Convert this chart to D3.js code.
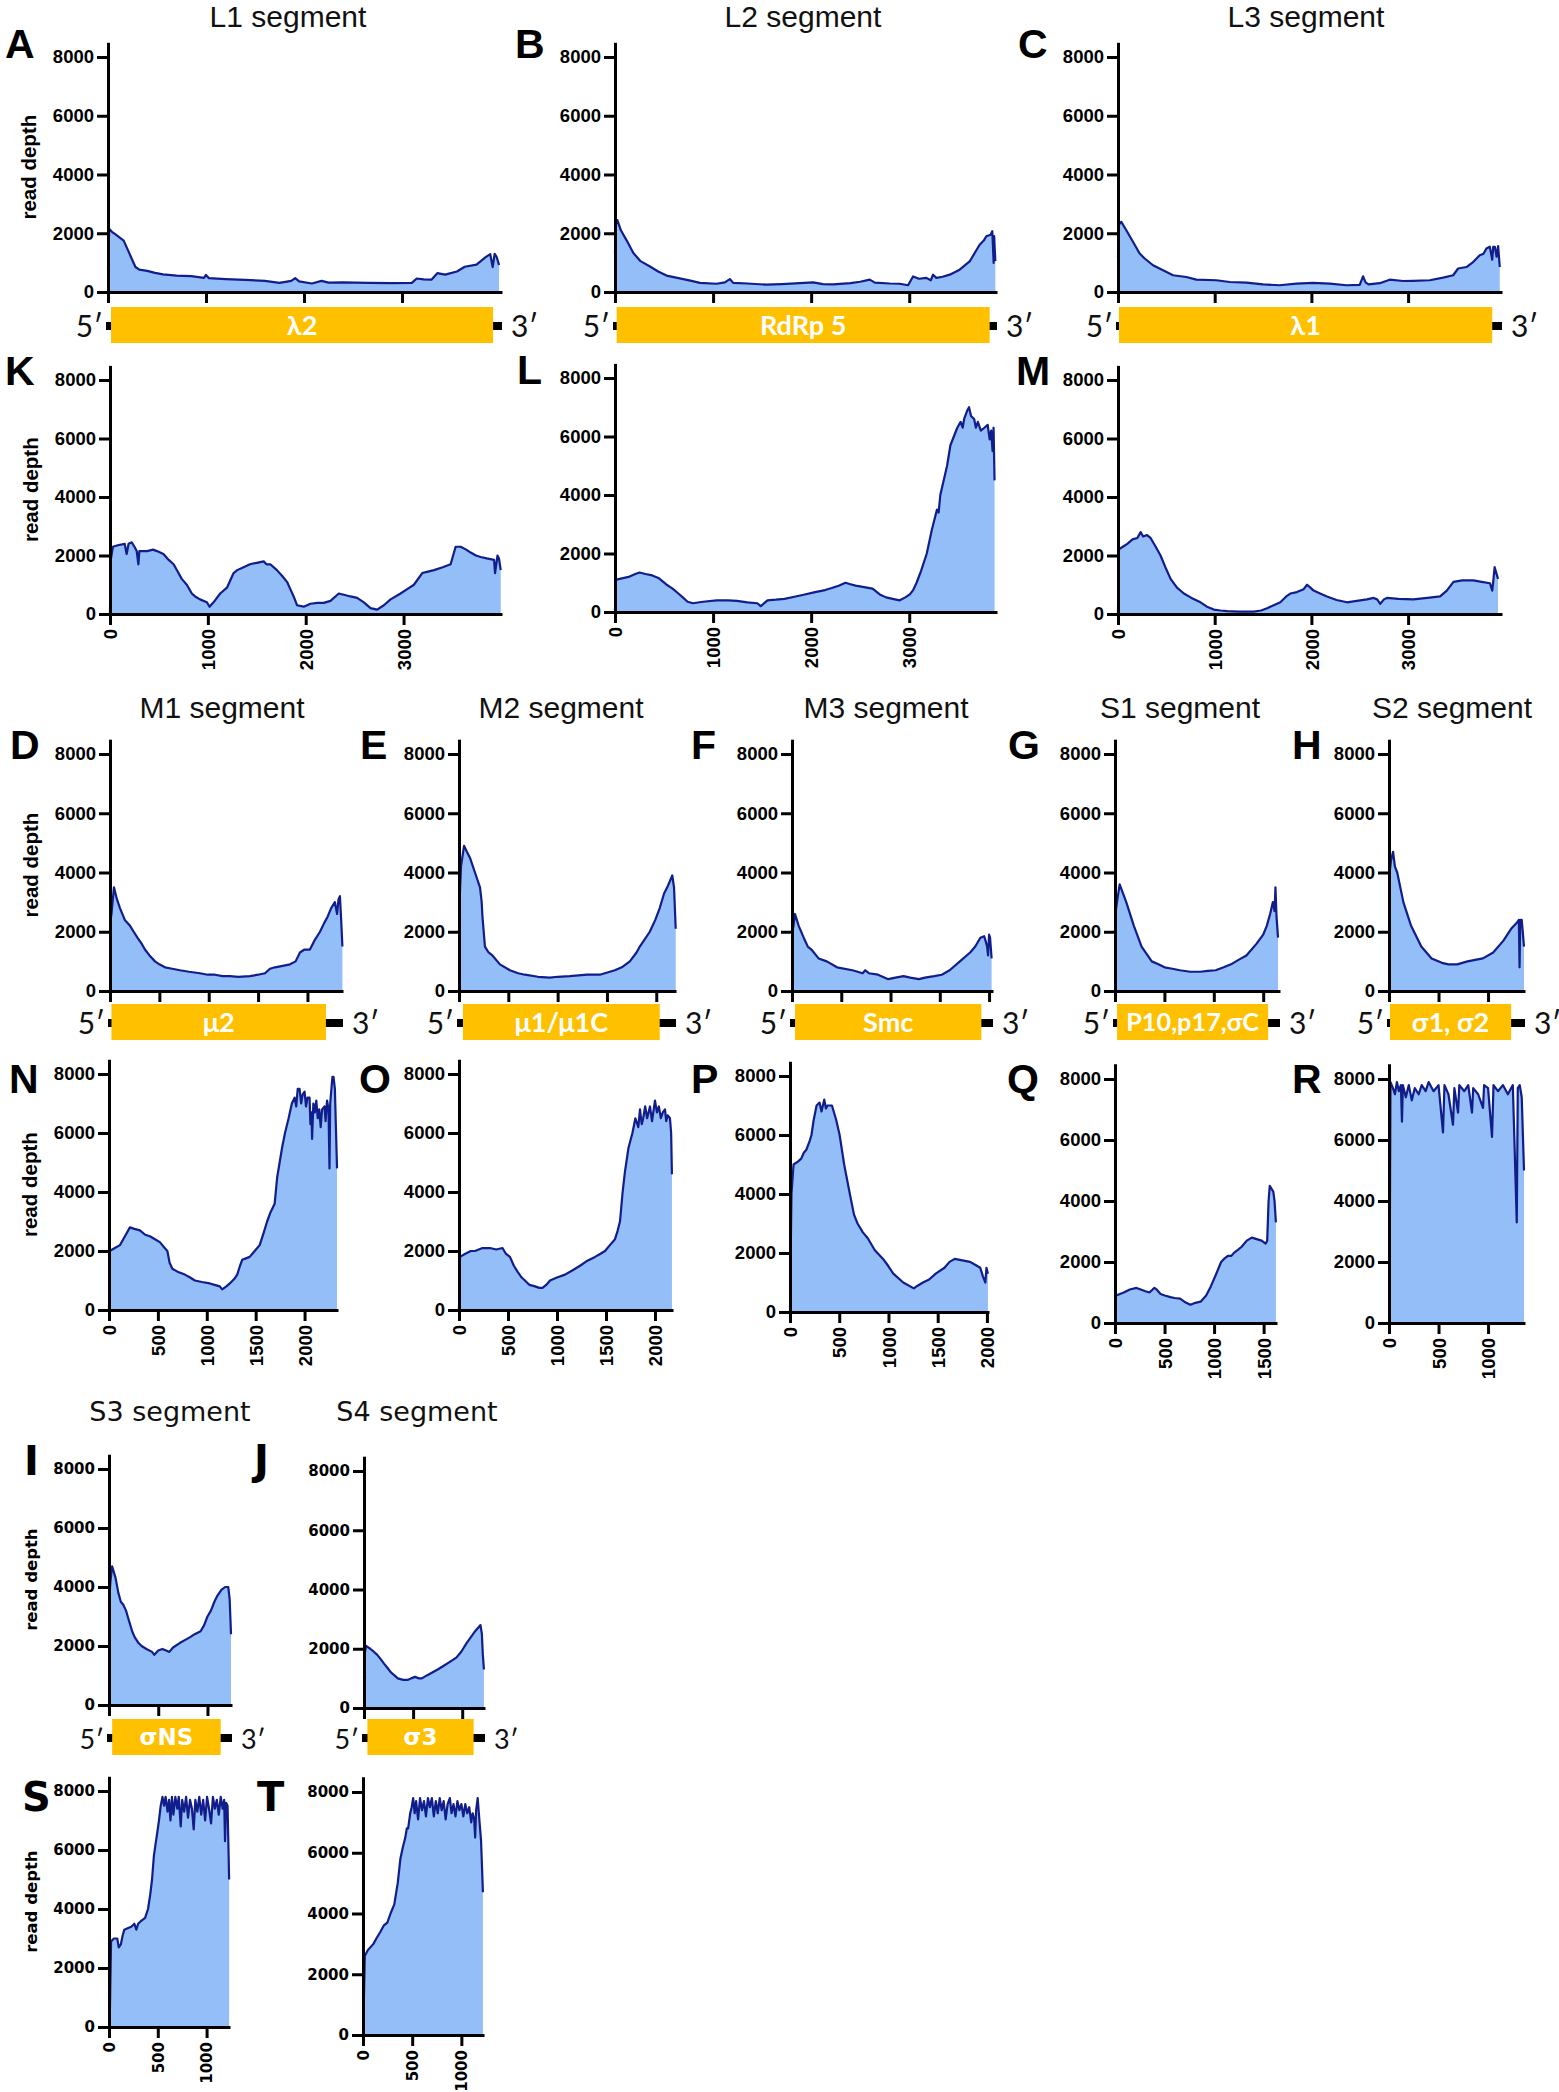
<!DOCTYPE html>
<html><head><meta charset="utf-8">
<script src="https://cdn.jsdelivr.net/npm/d3@7"></script>
<style>body{margin:0;background:#fff}svg{display:block}</style>
</head><body>
<svg id="fig" width="1559" height="2092"></svg>
<script>
// ---------------- DATA ----------------
const segmentTitles = ["L1 segment","L2 segment","L3 segment","M1 segment","M2 segment","M3 segment","S1 segment","S2 segment","S3 segment","S4 segment"];
const geneNames = ["λ2","RdRp 5","λ1","μ2","μ1/μ1C","Smc","P10,p17,σC","σ1, σ2","σNS","σ3"];
const orfStart = [31,17,10,15,40,31,21,10,32,35];
const orfEnd   = [3929,3820,3870,2187,2035,1922,1550,1233,1134,1116];
const yTickValues = [0,2000,4000,6000,8000];
const xTicksL = [0,1000,2000,3000];
const xTicksM = [0,500,1000,1500,2000];
const xTicksS1 = [0,500,1000,1500];
const xTicksS = [0,500,1000];
const yAxisLabel = "read depth";

// read depth, [position (nt), depth]
const depthA = [[0,800],[12,2150],[40,2050],[80,1950],[120,1850],[160,1750],[200,1450],[240,1150],[280,850],[320,760],[400,720],[480,650],[560,600],[700,560],[850,540],[980,480],[1000,580],[1030,470],[1200,440],[1400,410],[1600,380],[1750,310],[1870,380],[1910,470],[1950,360],[2080,290],[2180,380],[2250,320],[2400,330],[2650,310],[2900,300],[3100,310],[3150,460],[3220,430],[3300,420],[3360,640],[3440,590],[3560,700],[3640,860],[3760,930],[3850,1180],[3900,1290],[3925,850],[3945,1300],[3965,1200],[3990,920]];
const depthB = [[0,1300],[8,2300],[24,2450],[60,2100],[120,1750],[187,1330],[260,1050],[357,870],[440,700],[526,560],[610,500],[696,440],[780,380],[866,310],[1036,280],[1120,330],[1171,440],[1205,310],[1350,290],[1545,250],[1700,270],[1885,300],[2020,330],[2120,270],[2224,260],[2400,300],[2500,350],[2597,420],[2650,320],[2800,290],[2903,280],[2988,230],[3039,530],[3100,450],[3175,480],[3220,400],[3243,590],[3277,480],[3340,520],[3413,590],[3514,760],[3616,1040],[3718,1610],[3760,1750],[3786,1900],[3830,1950],[3847,2070],[3861,990],[3866,1900],[3878,1050]];
const depthC = [[0,1190],[10,2300],[34,2390],[86,2100],[155,1710],[224,1310],[276,1140],[362,910],[466,740],[569,570],[707,510],[810,420],[1017,400],[1155,340],[1328,320],[1500,260],[1672,230],[1845,285],[2017,310],[2190,285],[2362,230],[2500,240],[2534,535],[2560,330],[2590,260],[2707,300],[2810,420],[2948,375],[3052,380],[3224,400],[3362,490],[3466,570],[3517,800],[3603,850],[3672,1020],[3741,1250],[3780,1300],[3810,1480],[3845,1540],[3870,1100],[3880,1540],[3897,1540],[3915,1200],[3931,1560],[3948,850]];
const depthK = [[0,0],[5,1800],[30,2300],[80,2350],[150,2400],[170,2050],[190,2400],[222,2450],[250,2300],[273,2150],[290,1700],[300,2150],[380,2150],[440,2200],[480,2150],[546,2050],[600,1850],[650,1700],[700,1400],[733,1200],[785,1000],[836,700],[870,600],[920,500],[990,400],[1017,250],[1058,400],[1126,700],[1195,900],[1263,1400],[1300,1500],[1365,1600],[1430,1700],[1500,1750],[1570,1800],[1600,1700],[1638,1700],[1706,1500],[1760,1300],[1809,1100],[1850,800],[1877,600],[1911,300],[1980,250],[2048,350],[2120,380],[2184,380],[2253,450],[2338,700],[2400,650],[2457,600],[2526,550],[2594,400],[2662,200],[2730,150],[2799,300],[2867,500],[2969,700],[3037,850],[3106,1000],[3191,1400],[3250,1450],[3311,1500],[3400,1600],[3481,1700],[3532,2300],[3584,2300],[3640,2200],[3686,2100],[3740,2000],[3788,1950],[3850,1900],[3925,1850],[3935,1400],[3960,2000],[3975,1900],[3993,1500]];
const depthL = [[0,0],[5,1100],[70,1150],[138,1200],[207,1300],[250,1350],[311,1300],[380,1250],[449,1150],[520,950],[587,800],[640,650],[691,500],[740,350],[795,300],[898,350],[1037,400],[1150,400],[1244,380],[1350,330],[1451,300],[1486,200],[1555,400],[1640,420],[1728,450],[1830,520],[1935,600],[2040,680],[2142,750],[2210,820],[2281,900],[2350,1000],[2400,950],[2453,900],[2540,850],[2626,800],[2700,600],[2764,500],[2830,450],[2903,400],[2960,500],[3006,600],[3040,750],[3075,1000],[3120,1400],[3179,2000],[3230,2800],[3283,3500],[3300,3400],[3317,4000],[3386,5000],[3420,5700],[3455,6000],[3490,6300],[3524,6500],[3545,6300],[3560,6600],[3593,6900],[3610,7000],[3630,6700],[3662,6600],[3680,6300],[3700,6500],[3730,6200],[3766,6300],[3800,6400],[3820,5900],[3835,6200],[3850,5500],[3860,6300],[3870,4500]];
const depthM = [[0,0],[5,2200],[50,2300],[96,2400],[150,2550],[200,2600],[234,2800],[260,2650],[300,2700],[337,2600],[390,2300],[440,2000],[490,1600],[544,1200],[610,900],[681,700],[760,550],[853,400],[920,250],[991,150],[1060,120],[1129,100],[1250,80],[1404,80],[1480,120],[1542,200],[1610,300],[1679,400],[1740,600],[1782,700],[1850,750],[1920,850],[1955,1000],[1990,900],[2023,800],[2090,700],[2161,600],[2260,480],[2368,400],[2470,450],[2574,500],[2643,550],[2680,500],[2712,350],[2750,500],[2781,550],[2900,520],[3056,500],[3200,550],[3331,600],[3400,800],[3469,1100],[3560,1150],[3675,1150],[3760,1100],[3847,1050],[3870,800],[3880,1100],[3895,1600],[3930,1200]];
const depthD = [[0,2300],[15,2600],[40,3500],[70,3100],[101,2800],[150,2400],[203,2200],[240,2000],[278,1800],[320,1600],[354,1400],[400,1200],[456,1000],[500,900],[557,800],[630,750],[709,700],[800,650],[911,600],[990,550],[1063,550],[1140,500],[1215,500],[1300,480],[1418,500],[1500,550],[1570,600],[1620,750],[1671,800],[1750,850],[1823,900],[1880,1000],[1924,1300],[1970,1400],[2025,1400],[2070,1700],[2127,2000],[2170,2300],[2203,2500],[2240,2800],[2278,3000],[2300,2600],[2315,3100],[2329,3200],[2340,2500],[2354,1500]];
const depthE = [[0,2500],[20,4200],[51,4900],[80,4700],[111,4500],[162,4000],[213,3500],[230,3000],[238,2500],[263,1500],[300,1300],[339,1200],[415,900],[516,700],[600,600],[668,550],[800,480],[921,450],[1000,480],[1124,500],[1300,550],[1428,550],[1580,700],[1650,800],[1732,1000],[1800,1300],[1833,1500],[1934,2000],[1990,2400],[2035,2800],[2080,3300],[2111,3500],[2162,3900],[2180,3500],[2197,2100]];
const depthF = [[0,1900],[15,2200],[31,2600],[68,2200],[119,1800],[160,1500],[197,1400],[270,1100],[353,1000],[457,800],[613,700],[717,600],[743,700],[780,600],[873,550],[977,400],[1050,450],[1132,500],[1200,450],[1288,400],[1350,450],[1444,500],[1520,550],[1600,700],[1704,1000],[1808,1300],[1860,1500],[1912,1800],[1950,1850],[1964,1700],[1980,1500],[1990,1200],[2000,1900],[2010,1800],[2026,1100]];
const depthG = [[0,2500],[20,3000],[47,3600],[80,3300],[114,3000],[191,2200],[269,1500],[372,1000],[440,900],[502,800],[580,750],[657,700],[760,650],[864,650],[940,680],[1019,700],[1100,800],[1174,900],[1250,1050],[1330,1200],[1433,1600],[1500,1900],[1536,2200],[1570,2600],[1598,3000],[1615,2700],[1624,3500],[1635,2500],[1650,1800]];
const depthH = [[0,3800],[20,4400],[41,4700],[60,4200],[83,4000],[145,3000],[223,2200],[326,1500],[430,1100],[534,950],[600,900],[689,900],[740,950],[793,1000],[870,1050],[948,1100],[1052,1300],[1155,1700],[1233,2100],[1290,2300],[1311,2400],[1318,800],[1325,2400],[1340,2400],[1363,1500]];
const depthN = [[0,0],[8,2000],[60,2100],[112,2200],[163,2500],[214,2800],[260,2750],[316,2700],[370,2550],[418,2500],[470,2400],[520,2300],[570,2100],[597,2000],[620,1600],[648,1400],[700,1300],[776,1200],[830,1100],[878,1000],[950,950],[1031,900],[1080,850],[1133,800],[1158,700],[1200,800],[1235,900],[1280,1050],[1311,1200],[1340,1500],[1362,1700],[1400,1750],[1439,1800],[1490,2000],[1541,2200],[1580,2600],[1617,3000],[1650,3300],[1694,3600],[1720,4500],[1770,5500],[1800,6000],[1837,6500],[1870,7000],[1898,7200],[1915,6900],[1930,7500],[1949,7500],[1965,7000],[1980,7300],[2000,7400],[2015,6900],[2030,7200],[2051,7200],[2060,6300],[2070,6700],[2077,5800],[2090,7000],[2105,6700],[2120,7100],[2135,6500],[2150,6800],[2165,6200],[2179,6800],[2204,6900],[2215,6400],[2230,7100],[2245,6800],[2255,4800],[2262,7000],[2285,7900],[2296,7900],[2310,7500],[2332,4800]];
const depthO = [[0,0],[10,1800],[60,1900],[120,2000],[163,2000],[240,2100],[316,2100],[380,2050],[444,2100],[480,1900],[520,1800],[560,1500],[597,1300],[640,1100],[673,1000],[720,850],[776,800],[820,750],[852,750],[890,850],[929,1000],[1000,1100],[1082,1200],[1160,1350],[1235,1500],[1300,1650],[1388,1800],[1440,1900],[1490,2000],[1540,2200],[1592,2400],[1620,2700],[1643,3000],[1670,4000],[1694,4700],[1730,5500],[1770,6000],[1800,6500],[1830,6200],[1847,6800],[1865,6300],[1880,6500],[1900,6900],[1920,6500],[1949,6900],[1970,6400],[2000,7100],[2020,6700],[2040,6900],[2060,6500],[2080,6700],[2102,6800],[2115,6400],[2130,6600],[2153,6500],[2165,6000],[2173,4600]];
const depthP = [[0,0],[5,1500],[15,4000],[36,5000],[80,5100],[114,5200],[140,5400],[166,5500],[200,5800],[218,6000],[240,6500],[270,7000],[300,7100],[320,6800],[348,7200],[365,6900],[380,7000],[426,7000],[470,6500],[504,6000],[550,5000],[608,4000],[650,3300],[686,3000],[740,2700],[790,2500],[860,2100],[945,1800],[1000,1550],[1049,1300],[1150,1000],[1257,800],[1300,900],[1350,1000],[1413,1100],[1480,1300],[1569,1500],[1620,1700],[1673,1800],[1750,1750],[1829,1700],[1880,1600],[1932,1500],[1960,1200],[1984,1000],[1995,1500],[2010,1300]];
const depthQ = [[0,0],[10,900],[50,950],[88,1000],[150,1100],[217,1150],[260,1100],[300,1050],[347,1000],[380,1100],[398,1150],[420,1100],[460,950],[502,900],[560,850],[600,820],[657,800],[700,700],[760,600],[800,650],[864,700],[920,900],[967,1200],[1020,1600],[1071,2000],[1100,2100],[1140,2200],[1174,2200],[1200,2300],[1240,2400],[1278,2500],[1330,2700],[1381,2800],[1430,2750],[1480,2700],[1520,2600],[1536,2700],[1550,4000],[1562,4500],[1580,4400],[1598,4300],[1610,4000],[1624,3300]];
const depthR = [[0,0],[5,500],[15,7900],[40,7700],[60,7500],[80,7900],[100,7600],[120,7800],[131,6600],[140,7800],[170,7400],[200,7800],[230,7300],[260,7700],[300,7500],[330,7800],[370,7600],[400,7900],[450,7600],[500,7800],[545,6250],[560,7800],[600,7500],[646,6500],[660,7700],[697,6900],[710,7800],[760,7600],[800,7800],[838,6900],[850,7700],[900,7500],[949,7050],[960,7800],[1000,7700],[1040,6100],[1055,7800],[1100,7600],[1150,7800],[1200,7500],[1250,7800],[1290,3300],[1300,7700],[1320,7800],[1340,7400],[1363,5000]];
const depthI = [[0,3500],[15,4200],[32,4700],[50,4500],[67,4300],[95,3800],[120,3500],[145,3400],[173,3200],[190,3000],[208,2800],[235,2500],[261,2300],[300,2100],[331,2000],[380,1900],[437,1800],[460,1700],[500,1850],[542,1900],[580,1850],[613,1800],[650,1950],[718,2100],[770,2200],[824,2300],[870,2400],[930,2500],[965,2700],[1000,3000],[1035,3200],[1070,3500],[1100,3700],[1141,3900],[1180,4000],[1211,4000],[1225,3600],[1239,2400]];
const depthJ = [[0,1000],[10,1900],[21,2100],[63,2000],[100,1900],[133,1800],[170,1650],[204,1500],[240,1350],[274,1200],[310,1100],[344,1000],[400,950],[449,950],[480,1000],[519,1050],[560,1000],[589,1000],[640,1100],[695,1200],[750,1300],[800,1400],[870,1550],[940,1700],[990,1900],[1046,2200],[1090,2400],[1133,2600],[1160,2700],[1186,2800],[1200,2500],[1210,1800],[1221,1300]];
const depthS = [[0,0],[8,300],[21,2900],[50,3000],[85,3000],[100,2700],[121,2800],[140,3100],[157,3300],[190,3350],[228,3400],[260,3500],[280,3300],[299,3500],[330,3600],[370,3700],[400,4000],[423,4500],[441,5000],[460,5800],[477,6200],[495,6600],[512,7000],[530,7500],[548,7800],[565,7500],[580,7800],[600,7300],[615,7700],[630,7000],[645,7800],[660,7200],[680,7800],[700,7400],[715,7800],[735,6800],[750,7700],[770,7300],[790,7800],[810,7100],[830,7700],[850,7400],[868,6700],[885,7700],[905,7300],[925,7800],[945,7200],[965,7700],[985,7000],[1005,7800],[1025,7400],[1046,6900],[1065,7800],[1085,7400],[1105,7700],[1125,7200],[1145,7800],[1165,7400],[1180,7700],[1189,6300],[1200,7600],[1215,7500],[1231,5000]];
const depthT = [[0,0],[8,1000],[18,2600],[50,2800],[106,3000],[140,3200],[177,3400],[210,3600],[247,3700],[280,4000],[318,4300],[353,5000],[380,5800],[406,6200],[430,6500],[445,6800],[459,6800],[480,7300],[495,7500],[510,7800],[525,7300],[540,7700],[560,7100],[580,7800],[600,7400],[620,7700],[640,7200],[660,7800],[680,7500],[700,7800],[720,7200],[740,7700],[760,7300],[780,7800],[800,7400],[820,7700],[840,7100],[860,7600],[883,7800],[900,7300],[920,7600],[940,7200],[960,7700],[980,7400],[1000,7600],[1020,7200],[1040,7600],[1060,7300],[1080,7500],[1100,7000],[1115,7300],[1130,7100],[1140,6500],[1150,7400],[1166,7800],[1180,7200],[1200,6400],[1219,4700]];

// ---------------- LAYOUT ----------------
const rowStyles = {
  r1: {title:{font:"Liberation Sans",size:30}, letter:{font:"Liberation Sans",size:41}, tick:{font:"Liberation Sans",size:18.5}, ylab:{font:"Liberation Sans",size:20.5}, gene:{font:"Lato",size:27}, prime:{font:"Lato",size:30}},
  r3: {title:{font:"DejaVu Sans",size:27}, letter:{font:"DejaVu Sans",size:40}, tick:{font:"DejaVu Sans",size:15}, ylab:{font:"DejaVu Sans",size:16.5}, gene:{font:"DejaVu Sans",size:23}, prime:{font:"Lato",size:27}}
};
const panels = [
  {L:"A",d:depthA,seg:0,x0:108,x1:502,max:4020,yz:292,y8:57,lx:5,ly:58,top:true,ticks:xTicksL,st:"r1",bar:307,ylab:true},
  {L:"B",d:depthB,seg:1,x0:615,x1:997,max:3895,yz:292,y8:57,lx:515,ly:58,top:true,ticks:xTicksL,st:"r1",bar:307},
  {L:"C",d:depthC,seg:2,x0:1118,x1:1502,max:3971,yz:292,y8:57,lx:1018,ly:58,top:true,ticks:xTicksL,st:"r1",bar:307},
  {L:"K",d:depthK,seg:0,x0:110,x1:502,max:4006,yz:614,y8:380,lx:5,ly:385,top:false,ticks:xTicksL,st:"r1",ylab:true},
  {L:"L",d:depthL,seg:1,x0:615,x1:997,max:3895,yz:612,y8:378,lx:517,ly:384,top:false,ticks:xTicksL,st:"r1"},
  {L:"M",d:depthM,seg:2,x0:1118,x1:1502,max:3971,yz:614,y8:380,lx:1016,ly:385,top:false,ticks:xTicksL,st:"r1"},
  {L:"D",d:depthD,seg:3,x0:110,x1:343,max:2360,yz:991,y8:754,lx:10,ly:759,top:true,ticks:xTicksM,st:"r1",bar:1004,ylab:true},
  {L:"E",d:depthE,seg:4,x0:459,x1:676,max:2200,yz:991,y8:754,lx:360,ly:759,top:true,ticks:xTicksM,st:"r1",bar:1004},
  {L:"F",d:depthF,seg:5,x0:792,x1:993,max:2040,yz:991,y8:754,lx:691,ly:759,top:true,ticks:xTicksM,st:"r1",bar:1004},
  {L:"G",d:depthG,seg:6,x0:1115,x1:1280,max:1670,yz:991,y8:754,lx:1008,ly:759,top:true,ticks:xTicksS1,st:"r1",bar:1004},
  {L:"H",d:depthH,seg:7,x0:1389,x1:1525,max:1373,yz:991,y8:754,lx:1292,ly:759,top:true,ticks:xTicksS,st:"r1",bar:1004},
  {L:"N",d:depthN,seg:3,x0:109,x1:338,max:2342,yz:1310,y8:1074,lx:9,ly:1093,top:false,ticks:xTicksM,st:"r1",ylab:true},
  {L:"O",d:depthO,seg:4,x0:459,x1:673,max:2184,yz:1310,y8:1074,lx:359,ly:1093,top:false,ticks:xTicksM,st:"r1"},
  {L:"P",d:depthP,seg:5,x0:790,x1:989,max:2021,yz:1312,y8:1076,lx:691,ly:1093,top:false,ticks:xTicksM,st:"r1"},
  {L:"Q",d:depthQ,seg:6,x0:1115,x1:1277,max:1635,yz:1323,y8:1079,lx:1007,ly:1093,top:false,ticks:xTicksS1,st:"r1"},
  {L:"R",d:depthR,seg:7,x0:1389,x1:1525,max:1373,yz:1323,y8:1079,lx:1292,ly:1093,top:false,ticks:xTicksS,st:"r1"},
  {L:"I",d:depthI,seg:8,x0:109,x1:232,max:1249,yz:1705,y8:1469,lx:24,ly:1475,top:true,ticks:xTicksS,st:"r3",bar:1719,ylab:true},
  {L:"J",d:depthJ,seg:9,x0:364,x1:485,max:1232,yz:1708,y8:1471,lx:254,ly:1474,top:true,ticks:xTicksS,st:"r3",bar:1719},
  {L:"S",d:depthS,seg:8,x0:109,x1:230,max:1240,yz:2027,y8:1791,lx:22,ly:1811,top:false,ticks:xTicksS,st:"r3",ylab:true},
  {L:"T",d:depthT,seg:9,x0:363,x1:484,max:1230,yz:2035,y8:1792,lx:257,ly:1811,top:false,ticks:xTicksS,st:"r3"}
];
const titlePos = [[288,27,"r1"],[803,27,"r1"],[1306,27,"r1"],[222,718,"r1"],[561,718,"r1"],[886,718,"r1"],[1180,718,"r1"],[1452,718,"r1"],[170,1421,"r3"],[417,1421,"r3"]];

const FILL = "#93BEF7", LINE = "#111D8A", GENE = "#FFC000";
const svg = d3.select("#fig");

segmentTitles.forEach((t,i)=>{
  const [cx,by,st] = titlePos[i];
  const s = rowStyles[st].title;
  svg.append("text").attr("x",cx).attr("y",by).attr("text-anchor","middle")
    .attr("font-family",s.font).attr("font-size",s.size).attr("fill","#111").text(t);
});

panels.forEach(p=>{
  const st = rowStyles[p.st];
  const x = d3.scaleLinear().domain([0,p.max]).range([p.x0,p.x1]);
  const k = (p.yz-p.y8)/8000;
  const y = d3.scaleLinear().domain([0,8500]).range([p.yz, p.yz-8500*k]);
  const g = svg.append("g");

  const area = d3.area().x(d=>x(d[0])).y0(y(0)).y1(d=>y(d[1]));
  const line = d3.line().x(d=>x(d[0])).y(d=>y(d[1]));
  g.append("path").datum(p.d).attr("d",area).attr("fill",FILL);
  g.append("path").datum(p.d).attr("d",line).attr("fill","none").attr("stroke",LINE)
    .attr("stroke-width",2.2).attr("stroke-linejoin","round");

  const ya = g.append("g").attr("transform",`translate(${p.x0},0)`)
    .call(d3.axisLeft(y).tickValues(yTickValues).tickSize(11).tickSizeOuter(0).tickPadding(3).tickFormat(d3.format("d")));
  ya.select(".domain").attr("stroke","#000").attr("stroke-width",3);
  ya.selectAll(".tick line").attr("stroke","#000").attr("stroke-width",3);
  ya.selectAll(".tick text").attr("font-family",st.tick.font).attr("font-size",st.tick.size)
    .attr("font-weight","bold").attr("fill","#000");

  const xa = g.append("g").attr("transform",`translate(0,${p.yz})`)
    .call(d3.axisBottom(x).tickValues(p.ticks).tickSize(11).tickSizeOuter(0).tickPadding(4)
      .tickFormat(p.top ? ()=>"" : d3.format("d")));
  xa.select(".domain").attr("stroke","#000").attr("stroke-width",3);
  xa.selectAll(".tick line").attr("stroke","#000").attr("stroke-width",3);
  if(!p.top){
    xa.selectAll(".tick text").attr("transform","rotate(-90)").attr("text-anchor","end")
      .attr("x",-15).attr("y",0).attr("dy","0.36em")
      .attr("font-family",st.tick.font).attr("font-size",st.tick.size).attr("font-weight","bold").attr("fill","#000");
  } else {
    xa.selectAll(".tick text").remove();
  }

  if(p.ylab){
    const cy = (y(0)+y(8500))/2;
    svg.append("text").attr("transform",`translate(${p.x0-72},${cy}) rotate(-90)`)
      .attr("text-anchor","middle").attr("font-family",st.ylab.font).attr("font-size",st.ylab.size)
      .attr("font-weight","bold").attr("fill","#000").text(yAxisLabel);
  }

  svg.append("text").attr("x",p.lx).attr("y",p.ly).attr("font-family",st.letter.font)
    .attr("font-size",st.letter.size).attr("font-weight","bold").attr("fill","#000").text(p.L);

  if(p.top){
    const bt = p.bar, bh = 36;
    svg.append("rect").attr("x",p.x0-2).attr("y",bt+15).attr("width",p.x1-p.x0+2).attr("height",8).attr("fill","#000");
    const gx0 = x(orfStart[p.seg]), gx1 = x(orfEnd[p.seg]);
    svg.append("rect").attr("x",gx0).attr("y",bt).attr("width",gx1-gx0).attr("height",bh).attr("fill",GENE);
    let fs = st.gene.size;
    const gt = svg.append("text").attr("x",(gx0+gx1)/2).attr("y",bt+bh/2).attr("dy","0.36em")
      .attr("text-anchor","middle").attr("font-family",st.gene.font).attr("font-size",fs)
      .attr("font-weight","bold").attr("fill","#fff").text(geneNames[p.seg]);
    const avail = gx1-gx0-18;
    const w = gt.node().getComputedTextLength();
    if(w > avail){ fs = Math.floor(fs*avail/w*10)/10; gt.attr("font-size",fs); }
    svg.append("text").attr("x",p.x0-5).attr("y",bt+30).attr("text-anchor","end")
      .attr("font-family",st.prime.font).attr("font-size",st.prime.size).attr("fill","#111").text("5′");
    svg.append("text").attr("x",p.x1+9).attr("y",bt+30).attr("text-anchor","start")
      .attr("font-family",st.prime.font).attr("font-size",st.prime.size).attr("fill","#111").text("3′");
  }
});
</script>
</body></html>
